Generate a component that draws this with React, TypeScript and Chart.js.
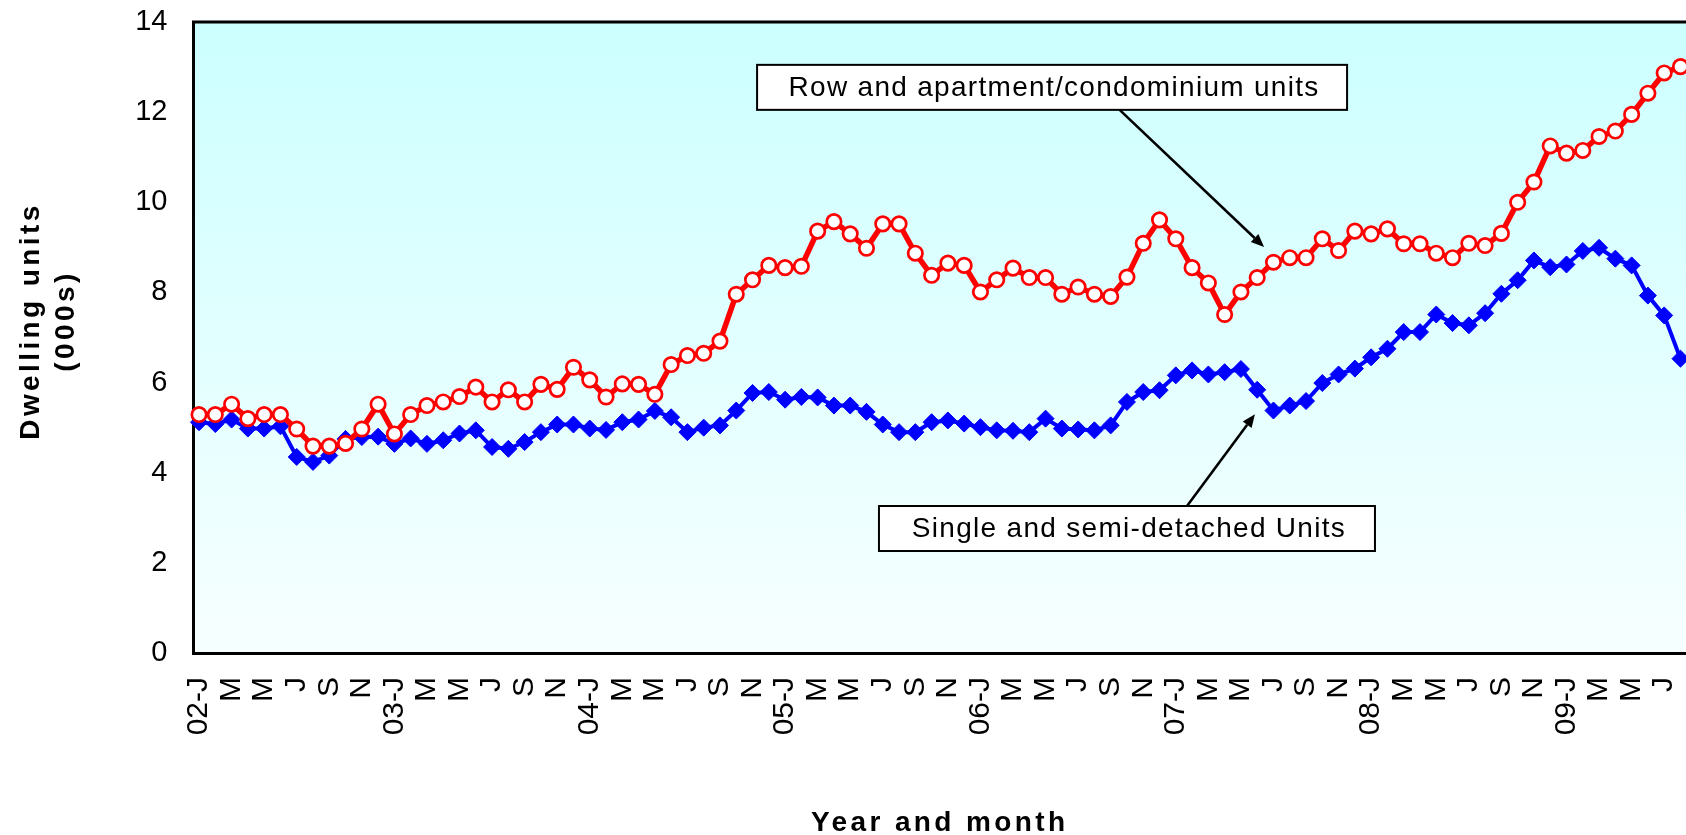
import React, { useEffect, useRef } from "react";
import { Chart, registerables } from "chart.js";

Chart.register(...registerables);

// ---------- data ----------
const years = ["02", "03", "04", "05", "06", "07", "08", "09"];
const monthLetters = ["J", "F", "M", "A", "M", "J", "J", "A", "S", "O", "N", "D"];

const seriesNames = ["Row and apartment/condominium units", "Single and semi-detached Units"];

// Row and apartment/condominium units (000s), Jan 2002 - Aug 2009
const rowApartment = [
  5.29, 5.29, 5.52, 5.2, 5.29, 5.29, 4.97, 4.59, 4.59, 4.65, 4.97, 5.52,
  4.86, 5.29, 5.49, 5.57, 5.69, 5.9, 5.57, 5.84, 5.57, 5.96, 5.85, 6.34,
  6.06, 5.68, 5.97, 5.96, 5.74, 6.4, 6.6, 6.65, 6.92, 7.96, 8.28, 8.6,
  8.55, 8.58, 9.36, 9.57, 9.3, 8.98, 9.52, 9.52, 8.87, 8.38, 8.65, 8.6,
  8.01, 8.28, 8.54, 8.33, 8.33, 7.96, 8.12, 7.96, 7.91, 8.34, 9.09, 9.61,
  9.19, 8.55, 8.21, 7.51, 8.01, 8.33, 8.67, 8.77, 8.77, 9.19, 8.93, 9.36,
  9.3, 9.41, 9.08, 9.08, 8.87, 8.77, 9.09, 9.04, 9.31, 10.0, 10.45, 11.25,
  11.09, 11.15, 11.46, 11.58, 11.95, 12.42, 12.87, 13.01,
];

// Single and semi-detached units (000s), Jan 2002 - Aug 2009
const singleSemi = [
  5.12, 5.08, 5.18, 4.98, 4.98, 5.03, 4.35, 4.24, 4.38, 4.75, 4.79, 4.8,
  4.64, 4.76, 4.64, 4.72, 4.87, 4.94, 4.57, 4.53, 4.68, 4.9, 5.07, 5.07,
  4.98, 4.95, 5.12, 5.18, 5.37, 5.23, 4.9, 5.0, 5.05, 5.38, 5.77, 5.79,
  5.62, 5.68, 5.67, 5.49, 5.49, 5.35, 5.07, 4.9, 4.9, 5.12, 5.16, 5.09,
  5.01, 4.94, 4.93, 4.9, 5.2, 4.98, 4.96, 4.94, 5.05, 5.57, 5.79, 5.83,
  6.16, 6.27, 6.18, 6.23, 6.3, 5.84, 5.38, 5.49, 5.59, 5.99, 6.18, 6.31,
  6.56, 6.75, 7.12, 7.12, 7.51, 7.32, 7.27, 7.54, 7.97, 8.27, 8.71, 8.56,
  8.62, 8.92, 8.99, 8.75, 8.6, 7.93, 7.49, 6.53,
];

const yTicks = [0, 2, 4, 6, 8, 10, 12, 14];

const categories = rowApartment.map((_, i) =>
  i % 12 === 0 ? `${years[Math.floor(i / 12)]}-J` : monthLetters[i % 12]
);

// ---------- layout / style ----------
const W = 1686;
const H = 835;
const FONT = "'Liberation Sans', Arial, Helvetica, sans-serif";

// annotation anchors in data units (x = month index, y = value)
const annotations = [
  {
    text: seriesNames[0],
    box: { x: 52.4, y: 12.55, w: 590, h: 45 },
    from: { x: 56.55, y: 12.05 },
    to: { x: 65.42, y: 9.01 },
  },
  {
    text: seriesNames[1],
    box: { x: 57.0, y: 2.762, w: 496, h: 45 },
    from: { x: 60.69, y: 3.262 },
    to: { x: 64.86, y: 5.296 },
  },
];

const decorPlugin = {
  id: "decor",
  beforeDraw(chart: any) {
    const { ctx, chartArea: a } = chart;
    ctx.save();
    const g = ctx.createLinearGradient(0, a.top, 0, a.bottom);
    g.addColorStop(0, "#CCFFFF");
    g.addColorStop(1, "#F7FFFF");
    ctx.fillStyle = g;
    ctx.fillRect(a.left, a.top, a.right - a.left, a.bottom - a.top);
    ctx.restore();
  },
  afterDraw(chart: any) {
    const { ctx, chartArea: a } = chart;
    const xs = chart.scales.x;
    const ys = chart.scales.y;
    ctx.save();
    // top border
    ctx.strokeStyle = "#000";
    ctx.lineWidth = 3;
    ctx.beginPath();
    ctx.moveTo(a.left - 1.5, a.top);
    ctx.lineTo(a.right, a.top);
    ctx.stroke();

    // axis titles
    ctx.fillStyle = "#000";
    ctx.font = `bold 28px ${FONT}`;
    (ctx as any).letterSpacing = "3.4px";
    ctx.textAlign = "center";
    ctx.textBaseline = "alphabetic";
    ctx.fillText("Year and month", (a.left + a.right) / 2, 831);

    ctx.save();
    ctx.translate(39, 321);
    ctx.rotate(-Math.PI / 2);
    ctx.fillText("Dwelling units", 0, 0);
    ctx.restore();
    ctx.save();
    ctx.translate(74, 321);
    ctx.rotate(-Math.PI / 2);
    ctx.fillText("(000s)", 0, 0);
    ctx.restore();

    // annotations
    ctx.font = `28px ${FONT}`;
    (ctx as any).letterSpacing = "1.3px";
    for (const an of annotations) {
      const fx = xs.getPixelForValue(an.from.x);
      const fy = ys.getPixelForValue(an.from.y);
      const tx = xs.getPixelForValue(an.to.x);
      const ty = ys.getPixelForValue(an.to.y);
      const ang = Math.atan2(ty - fy, tx - fx);
      const headLen = 13;
      const headHalf = 5.5;
      const bx = tx - headLen * Math.cos(ang);
      const by = ty - headLen * Math.sin(ang);
      ctx.strokeStyle = "#000";
      ctx.lineWidth = 2.6;
      ctx.beginPath();
      ctx.moveTo(fx, fy);
      ctx.lineTo(bx, by);
      ctx.stroke();
      ctx.fillStyle = "#000";
      ctx.beginPath();
      ctx.moveTo(tx, ty);
      ctx.lineTo(bx + headHalf * Math.sin(ang), by - headHalf * Math.cos(ang));
      ctx.lineTo(bx - headHalf * Math.sin(ang), by + headHalf * Math.cos(ang));
      ctx.closePath();
      ctx.fill();

      const cx = xs.getPixelForValue(an.box.x);
      const cy = ys.getPixelForValue(an.box.y);
      const left = cx - an.box.w / 2;
      const top = cy - an.box.h / 2;
      ctx.fillStyle = "#FFFFFF";
      ctx.fillRect(left, top, an.box.w, an.box.h);
      ctx.lineWidth = 2;
      ctx.strokeStyle = "#000";
      ctx.strokeRect(left, top, an.box.w, an.box.h);
      ctx.fillStyle = "#000";
      ctx.textAlign = "center";
      ctx.textBaseline = "alphabetic";
      ctx.fillText(an.text, cx + 2, top + 31);
    }
    (ctx as any).letterSpacing = "0px";
    ctx.restore();
  },
};

export default function App() {
  const ref = useRef<HTMLCanvasElement>(null);

  useEffect(() => {
    document.body.style.margin = "0";
    document.body.style.overflow = "hidden";
    const canvas = ref.current;
    if (!canvas) return;
    const chart = new Chart(canvas, {
      type: "line",
      data: {
        datasets: [
          {
            label: seriesNames[0],
            data: rowApartment.map((v, i) => ({ x: i, y: v })),
            borderColor: "#FF0000",
            backgroundColor: "#FF0000",
            borderWidth: 5.5,
            pointStyle: "circle",
            pointRadius: 7.2,
            pointBorderWidth: 2.7,
            pointBackgroundColor: "#FFFFFF",
            pointBorderColor: "#FF0000",
            tension: 0,
            clip: false as any,
            order: 0,
          },
          {
            label: seriesNames[1],
            data: singleSemi.map((v, i) => ({ x: i, y: v })),
            borderColor: "#0000FF",
            backgroundColor: "#0000FF",
            borderWidth: 4,
            pointStyle: "rectRot",
            pointRadius: 8.5,
            pointBorderWidth: 1,
            pointBackgroundColor: "#0000FF",
            pointBorderColor: "#0000FF",
            tension: 0,
            clip: false as any,
            order: 1,
          },
        ],
      },
      options: {
        responsive: false,
        animation: false,
        devicePixelRatio: 1,
        layout: { autoPadding: false, padding: { top: 22, right: 0, left: 0, bottom: 0 } },
        plugins: { legend: { display: false }, tooltip: { enabled: false } },
        scales: {
          x: {
            type: "linear",
            min: -0.34,
            max: 91.34,
            afterBuildTicks: (s: any) => {
              s.ticks = categories
                .map((_, i) => i)
                .filter((i) => i % 2 === 0)
                .map((v) => ({ value: v }));
            },
            afterFit: (s: any) => {
              s.height = H - 653;
              s.paddingLeft = 0;
              s.paddingRight = 0;
            },
            ticks: {
              autoSkip: false,
              minRotation: 90,
              maxRotation: 90,
              padding: 24,
              color: "#000",
              font: { family: FONT, size: 30 },
              callback: (v: any) => categories[v] ?? "",
            },
            grid: { display: false, drawTicks: false },
            border: { display: true, color: "#000", width: 3 },
          },
          y: {
            min: 0,
            max: 14,
            afterBuildTicks: (s: any) => {
              s.ticks = yTicks.map((v) => ({ value: v }));
            },
            afterFit: (s: any) => {
              s.width = 193.5;
              s.paddingTop = 0;
              s.paddingBottom = 0;
            },
            ticks: {
              padding: 26,
              color: "#000",
              font: { family: FONT, size: 29 },
            },
            grid: { display: false, drawTicks: false },
            border: { display: true, color: "#000", width: 3 },
          },
        },
      },
      plugins: [decorPlugin],
    });
    return () => chart.destroy();
  }, []);

  return (
    <canvas
      ref={ref}
      width={W}
      height={H}
      style={{ display: "block", width: W, height: H }}
    />
  );
}
